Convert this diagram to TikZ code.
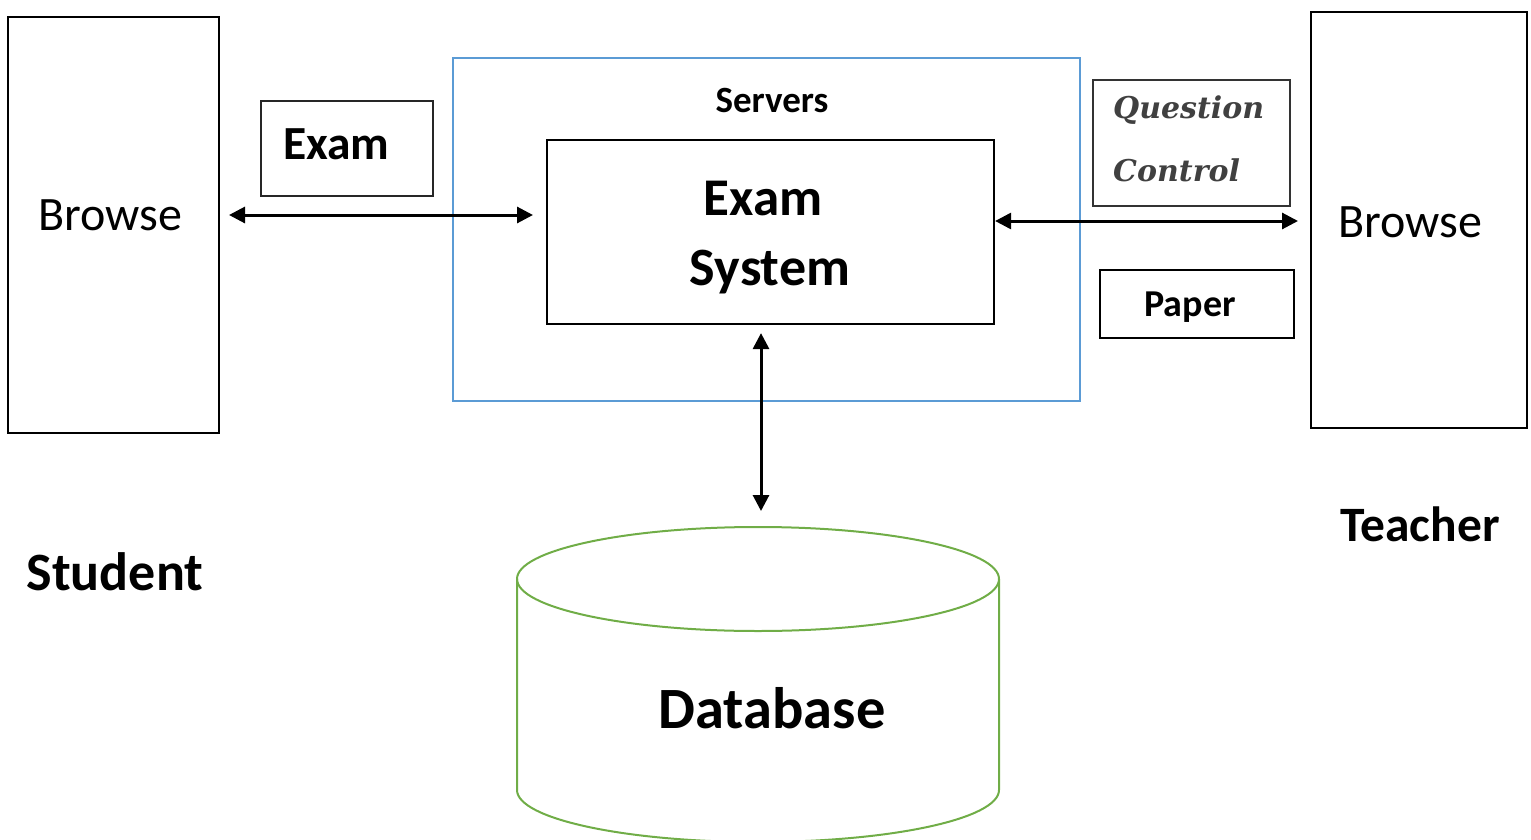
\documentclass[tikz,border=0pt]{standalone}
\usepackage{fontspec}
\setmainfont{Carlito}
\newfontfamily\qcfont{DejaVu Serif}
\usetikzlibrary{arrows.meta}
\definecolor{srvblue}{HTML}{5B9BD5}
\definecolor{dbgreen}{HTML}{70AD47}
\definecolor{qgray}{HTML}{404040}
\tikzset{
  bigbox/.style={draw=black, line width=2.2pt, inner sep=0pt},
  thinbox/.style={draw=black!85, line width=1.1pt, inner sep=0pt},
  conn/.style={line width=3pt, {Triangle[length=16pt,width=16pt]}-{Triangle[length=16pt,width=16pt]}},
  plain/.style={inner sep=0pt, anchor=center},
}
\begin{document}
\begin{tikzpicture}[x=1pt,y=-1pt]
\useasboundingbox (0,0) rectangle (1531,840);
% servers frame
\node[draw=srvblue, line width=1.2pt, minimum width=627pt, minimum height=343pt, inner sep=0pt] (srv) at (766.5,229.5) {};
\node[plain, font=\bfseries\fontsize{37}{44}\selectfont] (srvlabel) at (772,101) {Servers};
% exam system
\node[bigbox, minimum width=447pt, minimum height=184pt] (sys) at (770.5,232) {};
\node[plain, font=\bfseries\fontsize{53}{64}\selectfont] (sysA) at (763,199) {Exam};
\node[plain, font=\bfseries\fontsize{54}{64}\selectfont] (sysB) at (770,272) {System};
% student side
\node[bigbox, minimum width=211pt, minimum height=416pt] (sbox) at (113.5,225) {};
\node[plain, font=\fontsize{48}{58}\selectfont] (sbrowse) at (110,215) {Browse};
\node[plain, font=\bfseries\fontsize{54}{64}\selectfont] (student) at (115,572) {Student};
\node[thinbox, minimum width=172pt, minimum height=95pt] (exambox) at (347,148.5) {};
\node[plain, anchor=west, font=\bfseries\fontsize{47.5}{57}\selectfont] (examlabel) at (283,144) {Exam};
% teacher side
\node[bigbox, minimum width=216pt, minimum height=416pt] (tbox) at (1419,220) {};
\node[plain, font=\fontsize{48}{58}\selectfont] (tbrowse) at (1410,222) {Browse};
\node[plain, font=\bfseries\fontsize{49.5}{60}\selectfont] (teacher) at (1420,524) {Teacher};
\node[thinbox, draw=black!80, minimum width=197pt, minimum height=126pt] (qcbox) at (1191.5,143) {};
\node[plain, anchor=west, text=qgray, font=\qcfont\bfseries\itshape\fontsize{30}{36}\selectfont] (qc1) at (1113,110) {Question};
\node[plain, anchor=west, text=qgray, font=\qcfont\bfseries\itshape\fontsize{30}{36}\selectfont] (qc2) at (1113,170) {Control};
\node[bigbox, minimum width=194pt, minimum height=68pt] (paper) at (1197,304) {};
\node[plain, font=\bfseries\fontsize{38}{46}\selectfont] (paperlabel) at (1190,307) {Paper};
% database
\draw[dbgreen, line width=2pt] (517,579) arc[start angle=180, end angle=-180, x radius=241pt, y radius=52pt];
\draw[dbgreen, line width=2pt] (517,579) -- (517,790) arc[start angle=180, end angle=360, x radius=241pt, y radius=52pt] -- (999,579);
\node[plain, font=\bfseries\fontsize{58.5}{70}\selectfont] (db) at (772,708) {Database};
\coordinate (dbtop) at (761,511);
% connectors
\coordinate (sL) at (229,215);
\coordinate (sR) at (533,215);
\draw[conn] (sL) -- (sR);
\draw[conn] (sys.east |- 0,221) -- (1298,221);
\draw[conn, shorten <=8pt] (sys.south -| dbtop) -- (dbtop);
\end{tikzpicture}
\end{document}
